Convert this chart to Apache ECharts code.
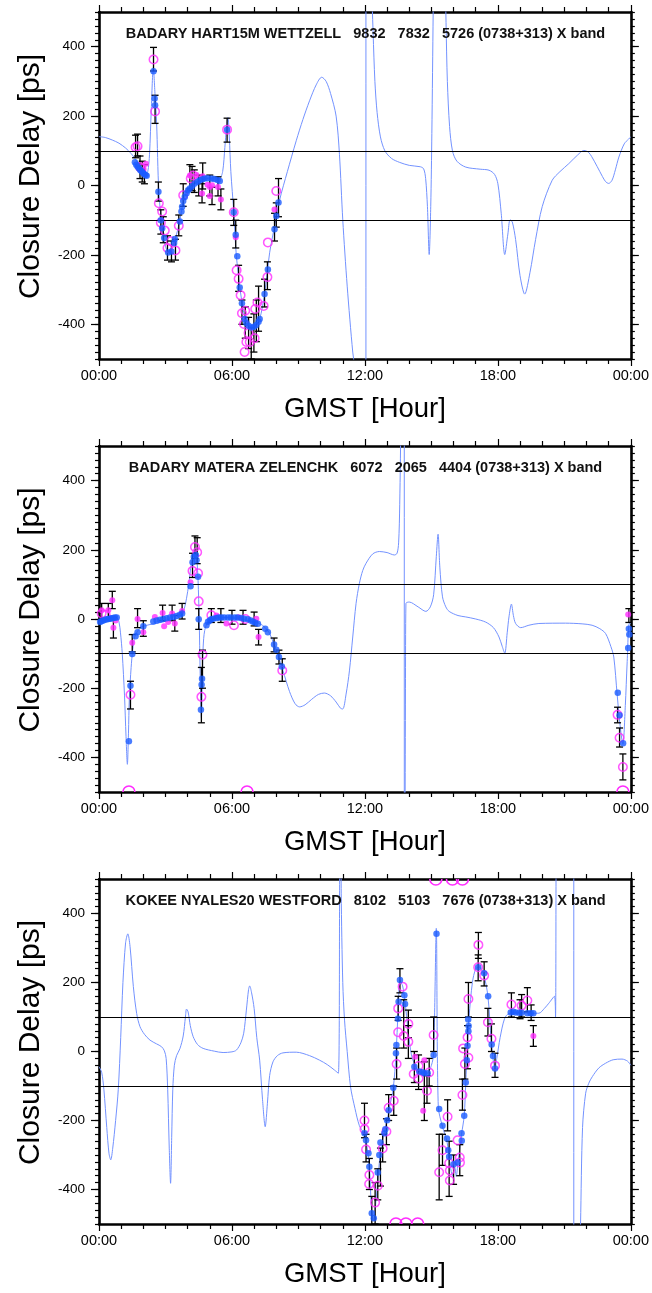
<!DOCTYPE html>
<html><head><meta charset="utf-8">
<script src="https://cdn.jsdelivr.net/npm/echarts@6/dist/echarts.min.js"></script>
<style>html,body{margin:0;padding:0;background:#fff}#c{width:652px;height:1293px}</style>
</head><body><div id="c"></div>
<script>
// ---------- tick labels ----------
const xTickValues = [0, 6, 12, 18, 24];
const xTickLabels = ['00:00', '06:00', '12:00', '18:00', '00:00'];
const yTickValues = [-400, -200, 0, 200, 400];
const refLevels = [100, -100];
const yAxisTitle = 'Closure Delay [ps]';
const xAxisTitle = 'GMST [Hour]';

const titles = [
  'BADARY HART15M WETTZELL   9832   7832   5726 (0738+313) X band',
  'BADARY MATERA ZELENCHK   6072   2065   4404 (0738+313) X band',
  'KOKEE NYALES20 WESTFORD   8102   5103   7676 (0738+313) X band'
];

// ---------- panel 1 : [GMST hour, closure delay ps] ----------
const model1 = [[0,141],[0.3,138],[0.6,131],[0.9,122],[1.2,108],[1.45,92],[1.62,78],[1.9,52],[2.1,36],[2.2,40],[2.28,90],[2.36,220],[2.45,340],[2.53,260],[2.6,180],[2.7,-18],[2.85,-120],[3.0,-175],[3.12,-191],[3.3,-175],[3.5,-140],[3.65,-99],[3.87,-30],[4.1,-4],[4.5,12],[4.85,20],[5.2,22],[5.45,22],[5.58,40],[5.68,110],[5.75,165],[5.82,196],[5.88,140],[5.95,40],[6.08,-75],[6.2,-204],[6.45,-337],[6.65,-395],[6.87,-409],[7.05,-405],[7.25,-385],[7.47,-313],[7.7,-194],[7.92,-118],[8.15,-42],[8.5,40],[8.9,129],[9.2,190],[9.5,244],[9.8,290],[10.05,312],[10.25,300],[10.45,265],[10.7,200],[10.85,90],[11.0,-99],[11.2,-290],[11.45,-480],[11.6,-560],[12.0,-5000],[12.04,-50000],[12.05,50000],[12.1,5000],[12.3,600],[12.37,440],[12.45,300],[12.55,210],[12.7,140],[12.9,100],[13.2,78],[13.55,67],[14.0,58],[14.5,54],[14.65,48],[14.74,20],[14.82,-60],[14.9,-199],[14.97,-60],[15.02,150],[15.08,500],[15.15,900],[15.4,1500],[15.6,700],[15.66,470],[15.72,300],[15.82,170],[15.95,100],[16.15,70],[16.55,53],[17.2,47],[17.6,44],[17.85,32],[18.0,5],[18.15,-80],[18.31,-199],[18.45,-140],[18.55,-99],[18.65,-105],[18.8,-156],[19.0,-260],[19.21,-313],[19.45,-250],[19.7,-156],[20.0,-61],[20.45,15],[20.8,40],[21.2,63],[21.6,88],[21.88,101],[22.1,95],[22.35,70],[22.6,40],[22.85,12],[23.0,6],[23.15,15],[23.3,45],[23.46,82],[23.7,120],[23.9,134],[24,140]];
const blue1 = [[1.62,67],[1.68,60],[1.74,55],[1.8,50],[1.86,45],[1.92,41],[1.98,37],[2.04,33],[2.1,30],[2.15,28],[2.46,329],[2.51,251],[2.53,231],[2.68,-18],[2.79,-100],[2.85,-123],[2.94,-151],[3.12,-193],[3.27,-190],[3.39,-166],[3.42,-154],[3.65,-104],[3.72,-75],[3.75,-61],[3.8,-45],[3.87,-33],[3.95,-22],[4.02,-14],[4.1,-9],[4.2,-2],[4.32,6],[4.45,11],[4.55,15],[4.66,18],[4.77,20],[4.9,21],[5.07,20],[5.2,19],[5.35,16],[5.45,13],[5.78,161],[6.08,-77],[6.17,-142],[6.24,-204],[6.35,-294],[6.45,-339],[6.57,-385],[6.65,-396],[6.75,-404],[6.87,-409],[6.99,-407],[7.1,-402],[7.2,-393],[7.25,-385],[7.47,-313],[7.62,-242],[7.92,-126],[8.0,-88],[8.1,-49]];
const magCircle1 = [[1.65,110],[1.74,113],[1.85,53],[1.92,49],[2.46,363],[2.53,213],[2.7,-51],[2.85,-75],[2.79,-107],[2.97,-130],[3.09,-180],[3.24,-161],[3.45,-187],[3.6,-116],[3.8,-28],[4.14,20],[4.25,29],[5.78,161],[6.08,-77],[6.21,-244],[6.3,-269],[6.39,-316],[6.45,-368],[6.6,-361],[6.54,-399],[6.75,-425],[6.8,-451],[6.57,-480],[6.65,-451],[7.02,-440],[7.05,-356],[7.15,-337],[7.43,-347],[7.6,-264],[7.62,-164],[8.0,-16]];
const magDot1 = [[2.12,63],[2.0,45],[4.1,29],[4.4,30],[4.68,27],[4.65,-23],[4.9,2],[5.0,-4],[5.0,-30],[5.1,1],[5.37,-4],[5.5,-40],[6.17,-149],[7.92,-69]];
const err1 = [[1.65,80,145],[1.74,85,148],[1.85,20,85],[1.95,10,70],[2.05,5,60],[2.46,330,398],[2.53,179,260],[2.68,-45,10],[2.79,-140,-70],[2.9,-165,-90],[3.09,-215,-145],[3.27,-220,-160],[3.45,-215,-155],[3.6,-145,-85],[3.8,-60,5],[4.1,-10,60],[4.2,-15,55],[4.3,-20,45],[4.5,-30,30],[4.68,-10,65],[4.65,-50,5],[5.0,-30,30],[5.1,-55,-5],[5.37,-30,25],[5.5,-70,-10],[5.78,125,194],[6.08,-115,-40],[6.17,-180,-100],[6.3,-305,-230],[6.45,-400,-330],[6.6,-440,-350],[6.75,-470,-380],[6.87,-500,-410],[6.99,-480,-370],[7.1,-450,-330],[7.2,-420,-290],[7.47,-350,-270],[7.6,-300,-220],[7.92,-160,-80],[8.0,-120,-50],[8.1,-90,20]];
const edge1 = [];

// ---------- panel 2 ----------
const model2 = [[0,-13],[0.2,-5],[0.5,0],[0.8,4],[0.9,-8],[0.97,-40],[1.05,-100],[1.15,-220],[1.22,-340],[1.28,-420],[1.33,-330],[1.37,-227],[1.45,-140],[1.52,-90],[1.62,-50],[1.78,-32],[1.92,-23],[2.3,-16],[2.6,-13],[3.0,-6],[3.5,1],[3.7,10],[3.85,30],[3.95,60],[4.05,100],[4.17,161],[4.3,195],[4.37,200],[4.42,170],[4.47,112],[4.52,1],[4.58,-207],[4.62,-285],[4.66,-180],[4.7,-81],[4.77,-33],[4.92,-9],[5.2,1],[5.6,4],[6.2,2],[6.65,-4],[7.0,-8],[7.25,-13],[7.5,-25],[7.7,-42],[8.0,-91],[8.3,-149],[8.6,-210],[8.85,-245],[9.05,-254],[9.3,-248],[9.6,-232],[9.9,-218],[10.17,-214],[10.45,-222],[10.7,-240],[10.9,-258],[11.0,-260],[11.15,-217],[11.3,-150],[11.45,-52],[11.6,45],[11.75,103],[11.9,140],[12.05,161],[12.35,188],[12.65,195],[13.0,192],[13.33,185],[13.45,190],[13.52,220],[13.57,330],[13.62,600],[13.7,3000],[13.77,50000],[13.78,-50000],[13.8,-1000],[13.83,-200],[13.85,45],[14.0,49],[14.4,35],[14.75,22],[14.95,35],[15.1,70],[15.22,180],[15.3,245],[15.38,150],[15.5,64],[15.65,35],[15.8,22],[16.2,10],[16.55,6],[17.0,0],[17.45,-9],[17.8,-25],[18.05,-52],[18.2,-80],[18.31,-99],[18.42,-40],[18.5,6],[18.61,43],[18.7,10],[18.8,-13],[19.03,-25],[19.4,-18],[19.85,-13],[21.05,-12],[21.8,-14],[22.25,-18],[22.6,-28],[22.86,-42],[23.1,-80],[23.23,-110],[23.38,-217],[23.5,-300],[23.64,-362],[23.75,-250],[23.83,-130],[23.93,-13],[24,-13]];
const blue2 = [[0.05,-9],[0.12,-6],[0.19,-4],[0.27,-2],[0.35,-1],[0.42,0],[0.5,1],[0.57,2],[0.64,3],[0.72,4],[0.8,4],[1.35,-353],[1.42,-193],[1.5,-101],[1.65,-50],[1.74,-38],[2.0,-21],[2.45,-7],[2.6,-4],[2.75,-2],[2.9,0],[3.05,2],[3.2,4],[3.35,6],[3.5,9],[3.65,12],[3.75,16],[4.13,95],[4.22,164],[4.28,180],[4.37,185],[4.4,170],[4.47,122],[4.5,-1],[4.6,-262],[4.65,-173],[4.63,-190],[4.85,-18],[4.92,-8],[5.0,-4],[5.07,-1],[5.15,1],[5.3,3],[5.4,4],[5.52,4],[5.65,4],[5.82,4],[5.95,4],[6.12,4],[6.25,4],[6.42,3],[6.55,1],[6.72,-1],[6.85,-4],[6.95,-8],[7.05,-11],[7.17,-14],[7.5,-28],[7.62,-38],[7.9,-74],[8.0,-89],[8.12,-110],[8.25,-137],[23.41,-213],[23.49,-278],[23.65,-359],[23.91,-28],[23.93,-45],[23.88,-84]];
const magCircle2 = [[0.12,16],[0.3,12],[1.42,-219],[4.22,139],[4.33,208],[4.43,193],[4.47,132],[4.5,51],[4.67,-103],[4.62,-225],[5.07,11],[6.09,-18],[6.6,0],[8.27,-149],[23.4,-277],[23.49,-343],[23.64,-428]];
const magDot2 = [[0.12,25],[0.42,25],[0.6,54],[0.65,-25],[0.75,-4],[1.5,-69],[1.74,0],[2.0,-38],[2.52,6],[2.87,17],[2.94,-21],[3.12,-9],[3.3,16],[3.42,-13],[3.75,23],[4.13,106],[5.3,10],[5.75,-13],[6.3,5],[7.1,1],[7.2,-52],[23.88,13]];
const err2 = [[0.12,0,45],[0.42,0,45],[0.6,30,80],[0.65,-55,5],[1.42,-260,-180],[1.5,-95,-45],[1.74,-25,30],[2.0,-50,-5],[2.87,-5,40],[3.3,-5,40],[3.42,-35,10],[3.75,0,45],[4.22,120,190],[4.33,175,240],[4.43,160,235],[4.5,-30,30],[4.62,-300,-140],[4.67,-200,-90],[5.07,-10,30],[5.5,-10,30],[6.0,-15,25],[6.5,-15,25],[7.0,-20,20],[7.2,-75,-30],[7.9,-95,-55],[8.12,-130,-90],[8.27,-180,-115],[23.4,-300,-255],[23.49,-370,-315],[23.64,-465,-390],[23.91,-10,30]];
const edge2 = [[1.35,-500],[6.68,-500],[23.64,-500]];

// ---------- panel 3 ----------
const model3 = [[0,-44],[0.12,-60],[0.22,-110],[0.35,-220],[0.45,-295],[0.53,-314],[0.62,-280],[0.75,-200],[0.87,-110],[0.98,40],[1.08,200],[1.2,315],[1.3,341],[1.4,305],[1.55,188],[1.7,110],[1.85,72],[2.05,50],[2.3,33],[2.6,22],[2.82,14],[2.95,2],[3.03,-20],[3.1,-110],[3.17,-280],[3.23,-382],[3.28,-250],[3.33,-110],[3.4,-40],[3.5,-12],[3.65,8],[3.8,45],[3.9,100],[3.95,123],[4.02,115],[4.12,75],[4.25,43],[4.45,20],[4.7,9],[5.2,1],[5.6,-3],[6.0,-1],[6.2,4],[6.4,25],[6.53,53],[6.65,120],[6.75,180],[6.8,190],[6.88,172],[7.0,125],[7.12,40],[7.25,-25],[7.38,-140],[7.5,-218],[7.6,-150],[7.7,-70],[7.85,-30],[8.05,-12],[8.3,-4],[8.9,-2],[9.5,-12],[9.95,-25],[10.3,-38],[10.63,-54],[10.8,-63],[10.86,500],[10.9,900],[10.93,459],[11.0,200],[11.08,91],[11.2,0],[11.35,-102],[11.55,-165],[11.75,-215],[11.95,-237],[12.05,-257],[12.2,-334],[12.3,-460],[12.4,-490],[12.5,-430],[12.6,-360],[12.7,-290],[12.85,-240],[13.0,-200],[13.1,-165],[13.28,-105],[13.4,-10],[13.5,120],[13.58,205],[13.7,190],[13.8,150],[13.95,60],[14.1,-10],[14.3,-45],[14.5,-60],[14.8,-63],[15.0,-40],[15.1,-5],[15.22,357],[15.31,-160],[15.5,-218],[15.7,-260],[15.85,-330],[15.95,-360],[16.05,-335],[16.12,-362],[16.2,-320],[16.36,-240],[16.48,-186],[16.55,-90],[16.62,10],[16.7,100],[16.85,200],[17.0,240],[17.15,245],[17.35,225],[17.55,160],[17.7,30],[17.8,-30],[17.87,-45],[17.95,-20],[18.1,40],[18.3,95],[18.5,110],[19.0,112],[19.5,111],[19.85,111],[20.1,125],[20.3,140],[20.55,160],[20.6,100],[20.63,600],[20.75,1500],[20.88,600],[21.0,2000],[21.42,50000],[21.43,-50000],[21.6,-2000],[21.7,-600],[21.73,-500],[21.82,-220],[21.96,-121],[22.1,-92],[22.26,-73],[22.55,-48],[22.86,-34],[23.2,-24],[23.6,-22],[23.85,-28],[24,-40]];
const blue3 = [[11.98,-237],[12.05,-257],[12.16,-295],[12.2,-334],[12.31,-469],[12.4,-483],[12.58,-351],[12.65,-300],[12.7,-264],[12.88,-237],[12.92,-225],[13.0,-199],[13.07,-170],[13.28,-105],[13.4,-5],[13.42,19],[13.49,95],[13.52,144],[13.58,207],[13.78,163],[13.81,138],[14.23,-44],[14.45,-58],[14.6,-60],[14.68,-63],[14.83,-63],[15.1,-10],[15.23,341],[15.35,-167],[15.5,-215],[15.7,-252],[15.76,-286],[15.8,-305],[16.0,-327],[16.18,-322],[16.36,-237],[16.37,-259],[16.48,-186],[16.55,-90],[16.6,-25],[16.63,17],[16.67,59],[16.68,74],[16.66,93],[17.11,244],[17.38,227],[17.56,160],[17.72,20],[17.78,-13],[17.87,-49],[18.58,113],[18.69,115],[18.8,113],[18.96,112],[19.07,112],[19.33,111],[19.48,111],[19.6,111]];
const magCircle3 = [[11.98,-200],[11.98,-225],[12.05,-284],[12.2,-358],[12.19,-384],[12.46,-438],[12.58,-389],[12.8,-281],[12.97,-232],[13.07,-163],[13.3,-143],[13.43,-36],[13.5,125],[13.5,56],[13.7,188],[13.75,45],[13.96,80],[13.96,28],[14.42,-42],[14.2,-65],[14.42,-78],[14.9,-61],[14.8,-114],[15.1,48],[15.73,-189],[15.5,-286],[15.35,-350],[15.8,-324],[15.83,-345],[15.83,-374],[16.18,-257],[16.28,-307],[16.29,-322],[16.4,-126],[16.51,-36],[16.43,9],[16.67,-18],[16.63,41],[16.67,152],[17.12,309],[17.11,244],[17.38,220],[17.55,85],[17.71,37],[17.87,-41],[18.61,136],[19.07,133],[19.33,148]];
const magDot3 = [[14.27,-15],[14.63,-172],[14.68,-25],[19.6,45]];
const err3 = [[11.98,-250,-150],[12.05,-320,-240],[12.2,-400,-310],[12.31,-510,-420],[12.46,-500,-380],[12.58,-430,-340],[12.7,-390,-280],[12.8,-320,-240],[12.97,-270,-195],[13.07,-200,-125],[13.3,-185,-100],[13.43,-80,10],[13.5,90,160],[13.58,170,240],[13.75,10,150],[13.96,40,120],[13.96,-20,75],[14.23,-90,0],[14.42,-110,-10],[14.68,-200,-30],[14.8,-150,-70],[14.9,-100,-20],[15.1,0,100],[15.35,-430,-240],[15.5,-330,-240],[15.73,-230,-140],[15.8,-420,-260],[16.0,-385,-300],[16.28,-360,-270],[16.4,-170,-80],[16.51,-80,10],[16.63,-50,75],[16.67,100,200],[17.12,270,345],[17.11,205,280],[17.38,190,260],[17.55,45,125],[17.71,0,80],[17.87,-75,-5],[18.61,100,170],[19.0,95,150],[19.07,100,165],[19.33,115,185],[19.5,90,135],[19.6,15,75]];
const edge3 = [[13.4,-500],[13.85,-500],[14.38,-500],[15.2,500],[15.95,500],[16.4,500]];

const panels = [
  {model: model1, blue: blue1, magC: magCircle1, magD: magDot1, err: err1, edge: edge1},
  {model: model2, blue: blue2, magC: magCircle2, magD: magDot2, err: err2, edge: edge2},
  {model: model3, blue: blue3, magC: magCircle3, magD: magDot3, err: err3, edge: edge3}
];

// ---------- layout / style ----------
const FONT = '"Liberation Sans", Arial, Helvetica, sans-serif';
const gridTops = [12, 446, 879];
const gridHeights = [347, 346, 345];
const GL = 99, GW = 533;
const BLUE = '#1a5bff', MAG = '#ff2dff', MODEL = '#7392ff';

const grids = [], xAxes = [], yAxes = [], series = [], graphics = [];
const axisLineStyle = {show: true, onZero: false, lineStyle: {color: '#000', width: 2.6}};

panels.forEach((p, i) => {
  grids.push({left: GL, top: gridTops[i], width: GW, height: gridHeights[i], containLabel: false});
  const xb = xAxes.length;
  xAxes.push({
    type: 'value', gridIndex: i, position: 'bottom', min: 0, max: 24, interval: 6,
    axisLine: axisLineStyle,
    axisTick: {show: true, inside: false, length: 7, lineStyle: {color: '#000', width: 1.2}},
    minorTick: {show: true, splitNumber: 6, length: 5, lineStyle: {color: '#000', width: 1.2}},
    splitLine: {show: false}, minorSplitLine: {show: false},
    axisLabel: {show: true, margin: 9, fontSize: 14.5, fontFamily: FONT, color: '#000',
      formatter: v => { const k = xTickValues.indexOf(v); return k >= 0 ? xTickLabels[k] : ''; }},
    name: xAxisTitle, nameLocation: 'middle', nameGap: 36,
    nameTextStyle: {fontSize: 27.5, fontFamily: FONT, color: '#000'}
  });
  xAxes.push({
    type: 'value', gridIndex: i, position: 'top', min: 0, max: 24, interval: 6,
    axisLine: axisLineStyle,
    axisTick: {show: true, inside: false, length: 7, lineStyle: {color: '#000', width: 1.2}},
    minorTick: {show: true, splitNumber: 6, length: 5, lineStyle: {color: '#000', width: 1.2}},
    splitLine: {show: false}, axisLabel: {show: false}
  });
  const yb = yAxes.length;
  yAxes.push({
    type: 'value', gridIndex: i, position: 'left', min: -500, max: 500, interval: 100,
    axisLine: axisLineStyle,
    axisTick: {show: true, inside: false, length: 8, customValues: yTickValues, lineStyle: {color: '#000', width: 1.2}},
    splitLine: {show: false},
    axisLabel: {show: true, margin: 14, fontSize: 13.5, fontFamily: FONT, color: '#000',
      formatter: v => yTickValues.indexOf(v) >= 0 ? String(v) : ''}
  });
  yAxes.push({
    type: 'value', gridIndex: i, position: 'left', min: -500, max: 500, interval: 20,
    axisLine: {show: false, onZero: false},
    axisTick: {show: true, inside: false, length: 4, lineStyle: {color: '#000', width: 1.2}},
    splitLine: {show: false}, axisLabel: {show: false}
  });
  yAxes.push({
    type: 'value', gridIndex: i, position: 'right', min: -500, max: 500, interval: 100,
    axisLine: axisLineStyle,
    axisTick: {show: true, inside: false, length: 8, customValues: yTickValues, lineStyle: {color: '#000', width: 1.2}},
    splitLine: {show: false}, axisLabel: {show: false}
  });
  yAxes.push({
    type: 'value', gridIndex: i, position: 'right', min: -500, max: 500, interval: 20,
    axisLine: {show: false, onZero: false},
    axisTick: {show: true, inside: false, length: 4, lineStyle: {color: '#000', width: 1.2}},
    splitLine: {show: false}, axisLabel: {show: false}
  });

  const ax = {xAxisIndex: xb, yAxisIndex: yb};
  series.push(Object.assign({
    type: 'line', data: p.model, showSymbol: false, symbol: 'none', clip: true,
    smooth: 0.3,
    lineStyle: {color: MODEL, width: 1}, silent: true, z: 2,
    markLine: {silent: true, symbol: 'none', label: {show: false},
      lineStyle: {color: '#000', width: 1.2, type: 'solid'},
      data: refLevels.map(v => ({yAxis: v}))}
  }, ax));
  series.push(Object.assign({
    type: 'custom', data: p.err, clip: true, z: 3, silent: true,
    encode: {x: 0, y: [1, 2]},
    renderItem: (params, api) => {
      const x = api.value(0), lo = api.value(1), hi = api.value(2);
      const a = api.coord([x, lo]), b = api.coord([x, hi]);
      const w = 3.5, st = {stroke: '#000', lineWidth: 1.3};
      return {type: 'group', children: [
        {type: 'line', shape: {x1: a[0], y1: a[1], x2: b[0], y2: b[1]}, style: st},
        {type: 'line', shape: {x1: a[0] - w, y1: a[1], x2: a[0] + w, y2: a[1]}, style: st},
        {type: 'line', shape: {x1: b[0] - w, y1: b[1], x2: b[0] + w, y2: b[1]}, style: st}
      ]};
    }
  }, ax));
  series.push(Object.assign({
    type: 'scatter', data: p.magD, symbol: 'circle', symbolSize: 6, z: 4, silent: true,
    itemStyle: {color: MAG}
  }, ax));
  series.push(Object.assign({
    type: 'scatter', data: p.magC, symbol: 'circle', symbolSize: 8.5, z: 4, silent: true,
    itemStyle: {color: 'rgba(0,0,0,0)', borderColor: MAG, borderWidth: 1.5}
  }, ax));
  series.push(Object.assign({
    type: 'scatter', data: p.blue, symbol: 'circle', symbolSize: 6.5, z: 5, silent: true,
    itemStyle: {color: BLUE}
  }, ax));
  series.push(Object.assign({
    type: 'custom', data: p.edge, clip: true, z: 5, silent: true,
    encode: {x: 0, y: 1},
    renderItem: (params, api) => {
      const c = api.coord([api.value(0), api.value(1)]);
      return {type: 'circle', shape: {cx: c[0], cy: c[1], r: 6},
        style: {fill: 'none', stroke: MAG, lineWidth: 1.6}};
    }
  }, ax));

  // in-plot title
  graphics.push({type: 'text', x: GL + GW / 2, y: gridTops[i] + 22, z: 10,
    style: {text: titles[i], fontSize: 14.5, fontWeight: 'bold', fontFamily: FONT, fill: '#111',
      align: 'center', verticalAlign: 'middle'}});
  // y axis title (rotated)
  graphics.push({type: 'text', x: 31, y: gridTops[i] + gridHeights[i] / 2 - 9, rotation: Math.PI / 2, z: 10,
    style: {text: yAxisTitle, fontSize: 30, fontFamily: FONT, fill: '#000',
      align: 'center', verticalAlign: 'middle'}});
});

const chart = echarts.init(document.getElementById('c'), null, {renderer: 'canvas'});
chart.setOption({
  animation: false,
  backgroundColor: '#fff',
  grid: grids, xAxis: xAxes, yAxis: yAxes, series: series, graphic: graphics
});
</script></body></html>
